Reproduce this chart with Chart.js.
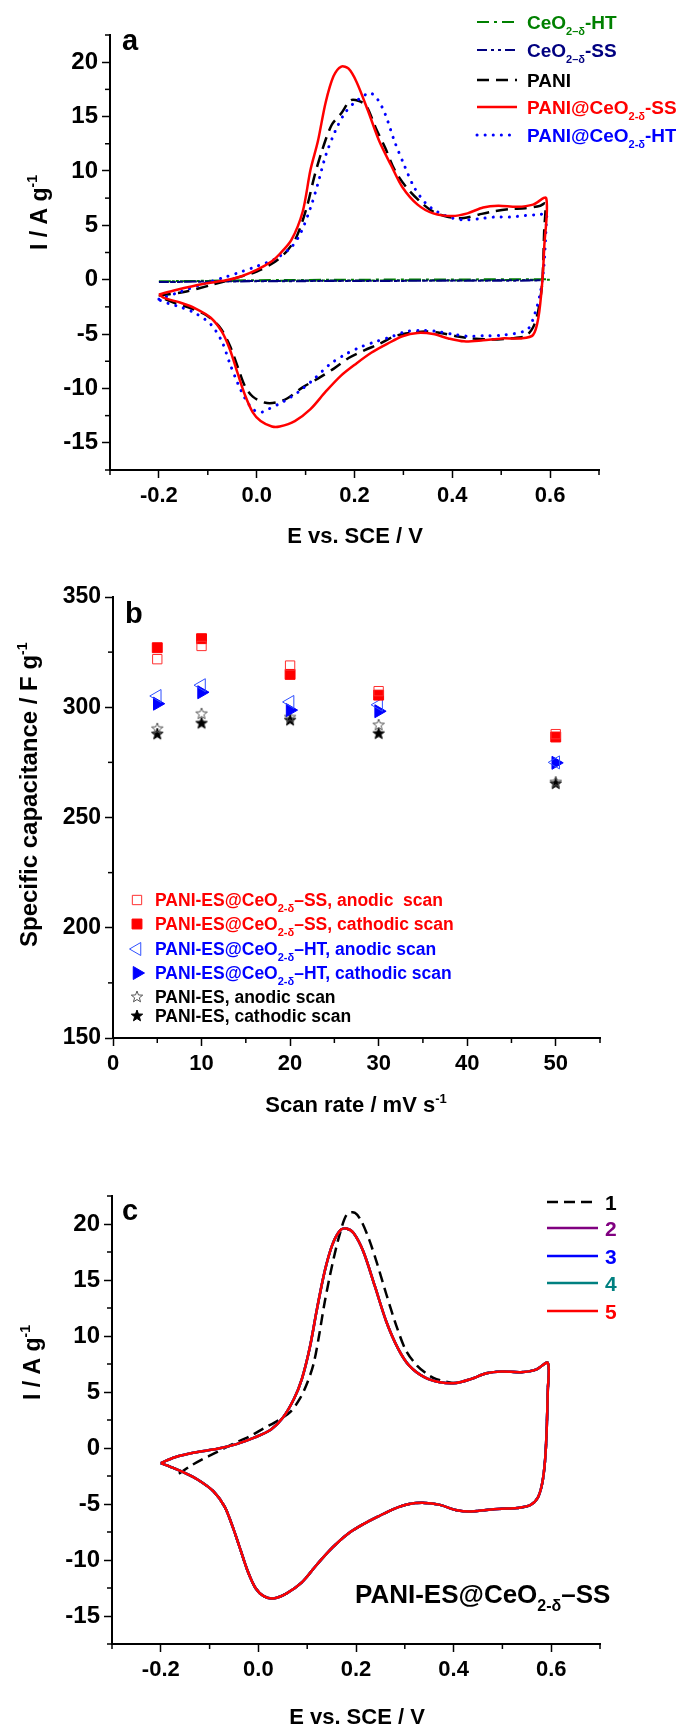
<!DOCTYPE html>
<html><head><meta charset="utf-8">
<script src="https://cdn.jsdelivr.net/npm/chart.js@4.4.1/dist/chart.umd.min.js"></script>
<style>
html,body{margin:0;padding:0;background:#fff;width:676px;height:1727px;overflow:hidden}
canvas{position:absolute;left:0}
</style></head><body>
<canvas id="ca" width="676" height="560" style="top:0"></canvas>
<canvas id="cb" width="676" height="560" style="top:560px"></canvas>
<canvas id="cc" width="676" height="607" style="top:1120px"></canvas>
<script>
// ---------------- DATA ----------------
// Panel a: CVs, E (V vs SCE) and I (A/g)
const aSS_E = [-0.2,-0.165,-0.11,-0.063,-0.031,0.0,0.031,0.047,0.071,0.094,0.11,0.125,0.141,0.157,0.173,0.188,0.204,0.227,0.251,0.275,0.298,0.329,0.361,0.4,0.431,0.463,0.494,0.533,0.565,0.592,
  0.588,0.584,0.576,0.565,0.541,
  0.502,0.463,0.424,0.392,0.361,0.329,0.298,0.267,0.235,0.204,0.173,0.141,0.11,0.078,0.047,0.031,0.008,-0.008,-0.024,-0.039,-0.055,-0.071,-0.094,-0.125,-0.157,-0.188,-0.2];
const aSS_I = [-1.36,-0.94,-0.39,-0.06,0.32,0.9,1.7,2.36,3.66,6.25,10.1,12.7,16.3,18.7,19.6,19.4,18.2,15.6,12.7,10.5,8.5,6.9,6.1,5.86,6.1,6.64,6.8,6.7,6.9,7.5,
  3.0,-0.2,-3.5,-5.1,-5.4,
  -5.4,-5.57,-5.67,-5.4,-5.0,-4.9,-5.2,-5.9,-6.7,-7.7,-8.8,-10.3,-11.9,-13.0,-13.5,-13.5,-13.0,-12.2,-10.6,-8.6,-6.4,-4.8,-3.5,-2.65,-2.1,-1.7,-1.36];

const aPANI_E = [-0.2,-0.149,-0.094,-0.047,0.0,0.039,0.063,0.082,0.102,0.118,0.133,0.153,0.173,0.192,0.208,0.224,0.243,0.263,0.282,0.306,0.337,0.361,0.392,0.424,0.455,0.486,0.518,0.549,0.58,0.59,
  0.588,0.584,0.576,0.565,0.549,
  0.518,0.478,0.439,0.408,0.376,0.345,0.314,0.282,0.251,0.22,0.188,0.157,0.125,0.094,0.063,0.039,0.016,-0.008,-0.024,-0.039,-0.055,-0.075,-0.102,-0.133,-0.165,-0.192,-0.2];
const aPANI_I = [-1.45,-1.13,-0.5,0.1,0.75,1.7,2.7,4.0,6.6,9.5,11.8,14.2,15.3,16.5,16.45,16.0,14.0,12.1,10.1,8.5,7.06,6.25,5.76,5.67,6.0,6.3,6.5,6.57,6.8,7.0,
  4.6,-0.2,-2.8,-4.4,-5.2,
  -5.4,-5.5,-5.4,-5.2,-4.9,-4.76,-4.9,-5.2,-5.9,-6.5,-7.2,-8.2,-9.1,-9.9,-10.9,-11.3,-11.3,-10.75,-9.8,-8.0,-6.05,-4.4,-3.3,-2.65,-2.2,-1.7,-1.5];

const aHT_E = [-0.2,-0.157,-0.11,-0.063,-0.031,0.0,0.039,0.071,0.09,0.11,0.125,0.141,0.161,0.18,0.2,0.216,0.231,0.247,0.263,0.282,0.302,0.322,0.345,0.369,0.4,0.424,0.455,0.486,0.518,0.549,0.58,0.592,
  0.592,0.587,0.58,0.569,0.553,
  0.502,0.463,0.431,0.4,0.369,0.337,0.306,0.275,0.243,0.212,0.18,0.149,0.118,0.086,0.055,0.024,0.008,-0.008,-0.024,-0.039,-0.055,-0.071,-0.094,-0.125,-0.157,-0.18,-0.2];
const aHT_I = [-1.8,-1.13,-0.4,0.26,0.74,1.23,1.94,3.0,4.3,6.6,8.8,11.4,13.7,15.3,16.3,16.8,17.2,16.6,15.2,12.7,10.5,8.5,7.06,6.25,5.67,5.5,5.6,5.76,5.76,5.9,6.0,6.1,
  5.0,1.1,-1.2,-3.1,-4.6,
  -5.1,-5.15,-5.2,-5.0,-4.76,-4.66,-4.76,-5.25,-5.7,-6.2,-6.9,-7.8,-9.1,-10.3,-11.2,-11.9,-12.2,-11.9,-10.9,-9.5,-7.7,-5.7,-4.1,-3.1,-2.5,-2.2,-1.85];

const aCeHT_E = [-0.2,0.0,0.2,0.4,0.6,0.6,0.4,0.2,0.0,-0.2];
const aCeHT_I = [-0.15,-0.05,0.0,0.02,0.05,0.0,-0.05,-0.07,-0.1,-0.15];
const aCeSS_E = [-0.2,0.0,0.2,0.4,0.58,0.58,0.4,0.2,0.0,-0.2];
const aCeSS_I = [-0.22,-0.12,-0.1,-0.08,-0.05,-0.08,-0.1,-0.12,-0.15,-0.22];

// Panel b: specific capacitance vs scan rate
const scanRates = [5,10,20,30,50];
const ssAnodic   = [321.8,327.8,318.9,307.3,287.8];
const ssCathodic = [327.0,331.1,314.9,305.5,286.5];
const htAnodic   = [305.1,310.0,302.4,301.1,275.0];
const htCathodic = [301.6,306.8,298.7,298.2,274.8];
const esAnodic   = [290.2,297.0,295.4,291.9,266.0];
const esCathodic = [287.8,292.7,294.1,288.0,265.3];

// Panel c: cycles 1-5 of PANI-ES@CeO2-δ–SS
const c1E = [-0.163,-0.139,-0.116,-0.084,-0.053,-0.021,0.01,0.042,0.065,0.085,0.1,0.113,0.124,0.136,0.152,0.168,0.182,0.198,0.211,0.227,0.243,0.262,0.282,0.302,0.325,0.349,0.365,
  0.404,0.435,0.467,0.498,0.538,0.569,0.593,
  0.593,0.589,0.583,0.573,0.557,0.53,
  0.498,0.467,0.435,0.404,0.372,0.341,0.309,0.278,0.246,0.215,0.183,0.152,0.12,0.089,0.057,0.03,0.01,-0.006,-0.021,-0.037,-0.053,-0.069,-0.092,-0.124,-0.155,-0.179,-0.2];
const c1I = [-2.3,-1.6,-1.04,-0.35,0.35,0.97,1.73,2.5,3.2,4.4,5.8,7.5,9.95,13.06,16.5,19.3,20.9,21.0,20.25,18.6,16.5,13.75,11.0,8.74,7.36,6.5,6.15,
  5.8,6.15,6.67,6.84,6.77,7.0,7.6,
  5.1,-0.07,-2.8,-4.4,-5.1,-5.36,
  -5.43,-5.53,-5.67,-5.53,-5.08,-4.9,-5.0,-5.43,-6.1,-6.8,-7.67,-8.88,-10.4,-12.0,-13.0,-13.44,-13.2,-12.5,-11.1,-9.05,-7.0,-5.25,-3.87,-2.83,-2.14,-1.7,-1.35];
const cE = [-0.2,-0.171,-0.131,-0.084,-0.045,-0.006,0.026,0.05,0.073,0.089,0.105,0.12,0.136,0.152,0.168,0.18,0.195,0.215,0.239,0.262,0.286,0.309,0.341,0.372,0.404,0.435,0.467,0.498,0.538,0.569,0.593,
  0.593,0.589,0.583,0.573,0.557,0.53,
  0.498,0.467,0.435,0.404,0.372,0.341,0.309,0.278,0.246,0.215,0.183,0.152,0.12,0.089,0.057,0.03,0.01,-0.006,-0.021,-0.037,-0.053,-0.069,-0.092,-0.124,-0.155,-0.179,-0.2];
const cI = [-1.35,-0.83,-0.41,-0.07,0.35,0.97,1.66,2.7,4.4,6.15,8.9,12.4,15.8,18.2,19.45,19.6,19.2,17.55,14.4,11.3,8.9,7.36,6.3,5.87,5.8,6.15,6.67,6.84,6.77,7.0,7.6,
  5.1,-0.07,-2.8,-4.4,-5.1,-5.36,
  -5.43,-5.53,-5.67,-5.53,-5.08,-4.9,-5.0,-5.43,-6.1,-6.8,-7.67,-8.88,-10.4,-12.0,-13.0,-13.44,-13.2,-12.5,-11.1,-9.05,-7.0,-5.25,-3.87,-2.83,-2.14,-1.7,-1.35];

// Tick values
const eTicks = [-0.2,0.0,0.2,0.4,0.6];
const eMinor = [-0.3,-0.1,0.1,0.3,0.5,0.7];
const iTicks = [-15,-10,-5,0,5,10,15,20];
const iMinor = [-17.5,-12.5,-7.5,-2.5,2.5,7.5,12.5,17.5,22.5];
const rateTicks = [0,10,20,30,40,50];
const rateMinor = [5,15,25,35,45,55];
const capTicks = [150,200,250,300,350];
const capMinor = [175,225,275,325];

// ---------------- HELPERS ----------------
const FONT = "'Liberation Sans', Arial, sans-serif";
const pts = (xs, ys) => xs.slice(0, Math.min(xs.length, ys.length)).map((x, i) => ({x, y: ys[i]}));

function drawRich(ctx, segs, x, y, size, color, o) {
  o = o || {};
  ctx.save();
  ctx.fillStyle = color;
  ctx.textBaseline = 'alphabetic';
  ctx.textAlign = 'left';
  const parts = segs.map(s => {
    const small = s.sub || s.sup;
    const fs = small ? Math.round(size * 0.6) : size;
    ctx.font = 'bold ' + fs + 'px ' + FONT;
    return {t: s.t, fs, w: ctx.measureText(s.t).width, dy: s.sub ? size * 0.3 : (s.sup ? -size * 0.42 : 0)};
  });
  const total = parts.reduce((a, p) => a + p.w, 0);
  ctx.translate(x, y);
  if (o.rotate) ctx.rotate(-Math.PI / 2);
  let cx = o.align === 'center' ? -total / 2 : 0;
  parts.forEach(p => {
    ctx.font = 'bold ' + p.fs + 'px ' + FONT;
    ctx.fillText(p.t, cx, p.dy);
    cx += p.w;
  });
  ctx.restore();
}

function makeStar(fill, stroke, R) {
  const s = Math.ceil(R * 2 + 4);
  const c = document.createElement('canvas');
  c.width = s; c.height = s;
  const g = c.getContext('2d');
  g.beginPath();
  for (let i = 0; i < 10; i++) {
    const r = i % 2 ? R * 0.42 : R;
    const a = -Math.PI / 2 + i * Math.PI / 5;
    const px = s / 2 + r * Math.cos(a), py = s / 2 + r * Math.sin(a);
    if (i) g.lineTo(px, py); else g.moveTo(px, py);
  }
  g.closePath();
  if (fill) { g.fillStyle = fill; g.fill(); }
  if (stroke) { g.strokeStyle = stroke; g.lineWidth = 1; g.stroke(); }
  return c;
}

const decoPlugin = {
  id: 'deco',
  afterDraw(chart, args, opts) {
    const ctx = chart.ctx, ca = chart.chartArea;
    (opts.minor || []).forEach(m => {
      const sc = chart.scales[m.axis];
      ctx.save(); ctx.strokeStyle = '#000'; ctx.lineWidth = 1.5;
      m.values.forEach(v => {
        const p = sc.getPixelForValue(v);
        ctx.beginPath();
        if (sc.isHorizontal()) { ctx.moveTo(p, ca.bottom); ctx.lineTo(p, ca.bottom + m.len); }
        else { ctx.moveTo(ca.left, p); ctx.lineTo(ca.left - m.len, p); }
        ctx.stroke();
      });
      ctx.restore();
    });
    (opts.texts || []).forEach(t => drawRich(ctx, t.segs, t.x, t.y, t.size, t.color, t));
    (opts.legend || []).forEach(l => {
      const ds = chart.data.datasets[l.ds];
      ctx.save();
      if (l.kind === 'line') {
        ctx.strokeStyle = ds.borderColor; ctx.lineWidth = ds.borderWidth;
        ctx.setLineDash(ds.borderDash || []); ctx.lineCap = ds.borderCapStyle || 'butt';
        ctx.beginPath(); ctx.moveTo(l.x1, l.y); ctx.lineTo(l.x2, l.y); ctx.stroke();
      } else {
        ctx.fillStyle = ds.backgroundColor; ctx.strokeStyle = ds.borderColor; ctx.lineWidth = ds.borderWidth;
        Chart.helpers.drawPoint(ctx, {pointStyle: ds.pointStyle, rotation: ds.pointRotation || 0, radius: ds.pointRadius, borderWidth: ds.borderWidth}, l.x, l.y);
      }
      ctx.restore();
      drawRich(ctx, l.segs, l.tx, l.y + l.size * 0.36, l.size, l.color, {});
    });
  }
};

function axis(min, max, ticks, fmt, fit, pad, fsize) {
  return {
    type: 'linear', min, max,
    afterBuildTicks: sc => { sc.ticks = ticks.map(v => ({value: v})); },
    afterFit: fit,
    ticks: {callback: v => fmt(v), font: {family: FONT, size: fsize, weight: 'bold'}, color: '#000', padding: pad, autoSkip: false, maxRotation: 0, minRotation: 0},
    grid: {drawOnChartArea: false, drawTicks: true, tickLength: 8, tickWidth: 1.5, tickColor: '#000'},
    border: {display: true, color: '#000', width: 2}
  };
}
const fmtE = v => v.toFixed(1);
const fmtN = v => String(v);

function baseOpts(L, R, T, B, W, H) {
  return {
    responsive: false, animation: false, devicePixelRatio: 1,
    layout: {padding: {left: 0, right: W - R, top: T, bottom: 0}},
    plugins: {legend: {display: false}, tooltip: {enabled: false}},
    _fitY: sc => { sc.width = L; },
    _fitX: sc => { sc.height = H - B; }
  };
}

function cvSet(label, xs, ys, color, width, dash, order, cap) {
  return {label, data: pts(xs, ys), showLine: true, pointRadius: 0, borderColor: color, backgroundColor: color,
    borderWidth: width, borderDash: dash, borderCapStyle: cap || 'butt', tension: 0.3, order, fill: false};
}

// ---------------- PANEL A ----------------
(function () {
  const W = 676, H = 560, L = 110, R = 599, T = 35, B = 470;
  const o = baseOpts(L, R, T, B, W, H);
  o.scales = {
    x: axis(-0.3, 0.7, eTicks, fmtE, o._fitX, 5, 22),
    y: axis(-17.5, 22.5, iTicks, fmtN, o._fitY, 4, 24)
  };
  const sub = t => ({t, sub: true});
  o.plugins.deco = {
    minor: [{axis: 'x', values: eMinor, len: 5}, {axis: 'y', values: iMinor, len: 5}],
    texts: [
      {segs: [{t: 'a'}], x: 122, y: 50, size: 29, color: '#000'},
      {segs: [{t: 'E vs. SCE / V'}], x: 355, y: 543, size: 22, color: '#000', align: 'center'},
      {segs: [{t: 'I / A g'}, {t: '-1', sup: true}], x: 47, y: 250, size: 23, color: '#000', rotate: true}
    ],
    legend: [
      {ds: 4, kind: 'line', x1: 477, x2: 517, y: 22, tx: 527, size: 19, color: '#008000', segs: [{t: 'CeO'}, sub('2\u2013\u03b4'), {t: '-HT'}]},
      {ds: 3, kind: 'line', x1: 477, x2: 517, y: 50, tx: 527, size: 19, color: '#000080', segs: [{t: 'CeO'}, sub('2\u2013\u03b4'), {t: '-SS'}]},
      {ds: 2, kind: 'line', x1: 477, x2: 517, y: 80, tx: 527, size: 19, color: '#000', segs: [{t: 'PANI'}]},
      {ds: 0, kind: 'line', x1: 477, x2: 517, y: 107, tx: 527, size: 19, color: '#ff0000', segs: [{t: 'PANI@CeO'}, sub('2-\u03b4'), {t: '-SS'}]},
      {ds: 1, kind: 'line', x1: 477, x2: 517, y: 135, tx: 527, size: 19, color: '#0000ff', segs: [{t: 'PANI@CeO'}, sub('2-\u03b4'), {t: '-HT'}]}
    ]
  };
  new Chart(document.getElementById('ca'), {
    type: 'scatter',
    data: {datasets: [
      cvSet('PANI@CeO2-δ-SS', aSS_E, aSS_I, '#ff0000', 2.5, [], 0),
      cvSet('PANI@CeO2-δ-HT', aHT_E, aHT_I, '#0000ff', 3, [0.1, 8], 1, 'round'),
      cvSet('PANI', aPANI_E, aPANI_I, '#000000', 2.5, [12, 7], 2),
      cvSet('CeO2-δ-SS', aCeSS_E, aCeSS_I, '#000080', 2, [10, 4, 3, 4, 3, 4], 3),
      cvSet('CeO2-δ-HT', aCeHT_E, aCeHT_I, '#008000', 2, [12, 5, 3, 5], 4)
    ]},
    options: o,
    plugins: [decoPlugin]
  });
})();

// ---------------- PANEL B ----------------
(function () {
  const W = 676, H = 560, L = 113, R = 600, T = 37, B = 478;
  const o = baseOpts(L, R, T, B, W, H);
  o.scales = {
    x: axis(0, 55, rateTicks, fmtN, o._fitX, 5, 22),
    y: axis(150, 350, capTicks, fmtN, o._fitY, 4, 23)
  };
  const sub = t => ({t, sub: true});
  const starOpen = makeStar(null, '#555555', 6);
  const starFill = makeStar('#000000', '#000000', 6);
  const mk = (label, ys, style, rot, r, fill, stroke, bw) => ({label, data: pts(scanRates, ys), showLine: false,
    pointStyle: style, pointRotation: rot, pointRadius: r, backgroundColor: fill, borderColor: stroke, borderWidth: bw});
  o.plugins.deco = {
    minor: [{axis: 'x', values: rateMinor, len: 5}, {axis: 'y', values: capMinor, len: 5}],
    texts: [
      {segs: [{t: 'b'}], x: 125, y: 63, size: 29, color: '#000'},
      {segs: [{t: 'Scan rate / mV s'}, {t: '-1', sup: true}], x: 356, y: 552, size: 22, color: '#000', align: 'center'},
      {segs: [{t: 'Specific capacitance / F g'}, {t: '-1', sup: true}], x: 37, y: 387, size: 24, color: '#000', rotate: true}
    ],
    legend: [
      {ds: 0, kind: 'pt', x: 137, y: 340, tx: 155, size: 17.5, color: '#ff0000', segs: [{t: 'PANI-ES@CeO'}, sub('2-\u03b4'), {t: '\u2013SS, anodic  scan'}]},
      {ds: 1, kind: 'pt', x: 137, y: 364, tx: 155, size: 17.5, color: '#ff0000', segs: [{t: 'PANI-ES@CeO'}, sub('2-\u03b4'), {t: '\u2013SS, cathodic scan'}]},
      {ds: 2, kind: 'pt', x: 137, y: 389, tx: 155, size: 17.5, color: '#0000ff', segs: [{t: 'PANI-ES@CeO'}, sub('2-\u03b4'), {t: '\u2013HT, anodic scan'}]},
      {ds: 3, kind: 'pt', x: 137, y: 413, tx: 155, size: 17.5, color: '#0000ff', segs: [{t: 'PANI-ES@CeO'}, sub('2-\u03b4'), {t: '\u2013HT, cathodic scan'}]},
      {ds: 4, kind: 'pt', x: 137, y: 437, tx: 155, size: 17.5, color: '#000', segs: [{t: 'PANI-ES, anodic scan'}]},
      {ds: 5, kind: 'pt', x: 137, y: 456, tx: 155, size: 17.5, color: '#000', segs: [{t: 'PANI-ES, cathodic scan'}]}
    ]
  };
  new Chart(document.getElementById('cb'), {
    type: 'scatter',
    data: {datasets: [
      mk('PANI-ES@CeO2-δ–SS, anodic scan', ssAnodic, 'rect', 0, 6.6, 'rgba(255,255,255,0)', '#ff3030', 1),
      mk('PANI-ES@CeO2-δ–SS, cathodic scan', ssCathodic, 'rect', 0, 7, '#ff0000', '#ff0000', 1),
      mk('PANI-ES@CeO2-δ–HT, anodic scan', htAnodic, 'triangle', -90, 7.5, 'rgba(255,255,255,0)', '#3050ff', 1),
      mk('PANI-ES@CeO2-δ–HT, cathodic scan', htCathodic, 'triangle', 90, 7.5, '#0000ff', '#0000ff', 1),
      mk('PANI-ES, anodic scan', esAnodic, starOpen, 0, 6, 'rgba(255,255,255,0)', '#555555', 1),
      mk('PANI-ES, cathodic scan', esCathodic, starFill, 0, 6, '#000000', '#000000', 1)
    ]},
    options: o,
    plugins: [decoPlugin]
  });
})();

// ---------------- PANEL C ----------------
(function () {
  const W = 676, H = 607, L = 112, R = 600, T = 76, B = 524;
  const o = baseOpts(L, R, T, B, W, H);
  o.scales = {
    x: axis(-0.3, 0.7, eTicks, fmtE, o._fitX, 5, 22),
    y: axis(-17.5, 22.5, iTicks, fmtN, o._fitY, 4, 24)
  };
  o.plugins.deco = {
    minor: [{axis: 'x', values: eMinor, len: 5}, {axis: 'y', values: iMinor, len: 5}],
    texts: [
      {segs: [{t: 'c'}], x: 122, y: 100, size: 29, color: '#000'},
      {segs: [{t: 'E vs. SCE / V'}], x: 357, y: 604, size: 22, color: '#000', align: 'center'},
      {segs: [{t: 'I / A g'}, {t: '-1', sup: true}], x: 40, y: 280, size: 23, color: '#000', rotate: true},
      {segs: [{t: 'PANI-ES@CeO'}, {t: '2-\u03b4', sub: true}, {t: '\u2013SS'}], x: 355, y: 483, size: 26, color: '#000'}
    ],
    legend: [
      {ds: 4, kind: 'line', x1: 547, x2: 598, y: 82, tx: 605, size: 21, color: '#000', segs: [{t: '1'}]},
      {ds: 3, kind: 'line', x1: 547, x2: 598, y: 108, tx: 605, size: 21, color: '#800080', segs: [{t: '2'}]},
      {ds: 2, kind: 'line', x1: 547, x2: 598, y: 136, tx: 605, size: 21, color: '#0000ff', segs: [{t: '3'}]},
      {ds: 1, kind: 'line', x1: 547, x2: 598, y: 163, tx: 605, size: 21, color: '#008080', segs: [{t: '4'}]},
      {ds: 0, kind: 'line', x1: 547, x2: 598, y: 191, tx: 605, size: 21, color: '#ff0000', segs: [{t: '5'}]}
    ]
  };
  new Chart(document.getElementById('cc'), {
    type: 'scatter',
    data: {datasets: [
      cvSet('5', cE, cI, '#ff0000', 2.5, [], 0),
      cvSet('4', cE, cI, '#008080', 2.5, [], 1),
      cvSet('3', cE, cI, '#0000ff', 2.5, [], 2),
      cvSet('2', cE, cI, '#800080', 2.5, [], 3),
      cvSet('1', c1E, c1I, '#000000', 2.5, [11, 6], 4)
    ]},
    options: o,
    plugins: [decoPlugin]
  });
})();
</script>
</body></html>
